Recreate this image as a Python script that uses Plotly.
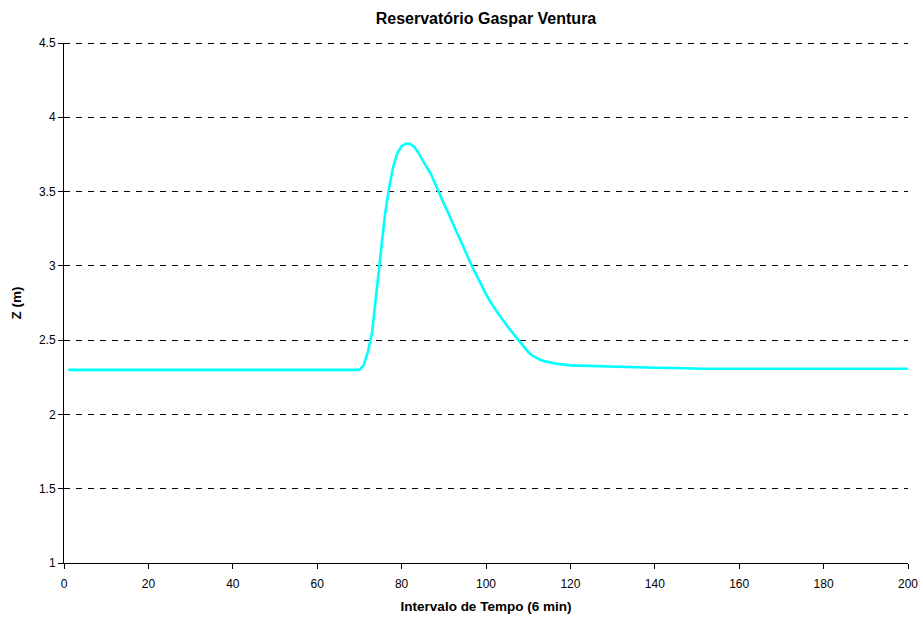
import plotly.graph_objects as go

# Time step (6 min intervals) and water level Z (m)
x_vals = [1, 70, 71, 72, 73, 74, 75, 76, 77, 78, 79, 80, 81, 82, 83, 84, 85, 86, 87, 88,
          89, 90, 91, 92, 93, 94, 95, 96, 97, 98, 99, 100, 101, 102, 103, 104, 105, 106,
          107, 108, 109, 110, 111, 112, 113, 114, 115, 117, 120, 125, 130, 135, 140, 145,
          150, 151, 200]
z_vals = [2.30, 2.30, 2.33, 2.42, 2.55, 2.82, 3.08, 3.33, 3.52, 3.667, 3.76, 3.805, 3.822,
          3.822, 3.80, 3.76, 3.71, 3.66, 3.615, 3.55, 3.48, 3.42, 3.36, 3.29, 3.23, 3.17,
          3.10, 3.04, 2.98, 2.92, 2.86, 2.81, 2.76, 2.715, 2.675, 2.635, 2.595, 2.56,
          2.525, 2.49, 2.455, 2.42, 2.395, 2.378, 2.366, 2.357, 2.35, 2.34, 2.33, 2.325,
          2.32, 2.317, 2.314, 2.312, 2.31, 2.307, 2.307]

x_ticks = [0, 20, 40, 60, 80, 100, 120, 140, 160, 180, 200]
y_ticks = [1, 1.5, 2, 2.5, 3, 3.5, 4, 4.5]
y_tick_text = ["1", "1.5", "2", "2.5", "3", "3.5", "4", "4.5"]

title_text = "Reservatório Gaspar Ventura"
x_title = "Intervalo de Tempo (6 min)"
y_title = "Z (m)"

fig = go.Figure()
fig.add_trace(go.Scatter(
    x=x_vals, y=z_vals, mode="lines",
    line=dict(color="#00FFFF", width=2.6, shape="linear"),
    showlegend=False, hoverinfo="x+y",
))

# top gridline (at the range edge, not drawn by the axis grid)
fig.add_shape(type="line", xref="paper", x0=0, x1=1, yref="y",
              ysizemode="pixel", yanchor=y_ticks[-1], y0=-0.5, y1=-0.5,
              line=dict(color="black", width=1, dash="6px,6px"), layer="below")

font_family = "Liberation Sans, Arial, sans-serif"

fig.update_layout(
    width=923, height=620,
    margin=dict(l=64, r=15, t=43, b=57),
    paper_bgcolor="white", plot_bgcolor="white",
    font=dict(family=font_family, size=12, color="black"),
    title=dict(text="<b>" + title_text + "</b>", x=(64 + 422) / 923, xanchor="center",
               y=1 - 18 / 620, yanchor="middle",
               font=dict(size=16, family=font_family, color="black")),
    xaxis=dict(
        range=[0, 200], tickvals=x_ticks, ticks="outside", ticklen=5, tickcolor="black",
        showline=True, linecolor="black", linewidth=1, showgrid=False, zeroline=False,
        ticklabelstandoff=5, automargin=False,
        title=dict(text="<b>" + x_title + "</b>", font=dict(size=13.5, color="black"), standoff=11),
        tickfont=dict(size=12, color="black"),
    ),
    yaxis=dict(
        range=[1, 4.5], tickvals=y_ticks, ticktext=y_tick_text, ticks="outside", ticklen=5,
        tickcolor="black", showline=True, linecolor="black", linewidth=1,
        showgrid=True, gridcolor="black", gridwidth=1, griddash="6px,6px",
        zeroline=False, automargin=False,
        title=dict(text="<b>" + y_title + "</b>", font=dict(size=13.5, color="black"), standoff=14),
        tickfont=dict(size=12, color="black"),
    ),
)

fig.write_html("out.html")
